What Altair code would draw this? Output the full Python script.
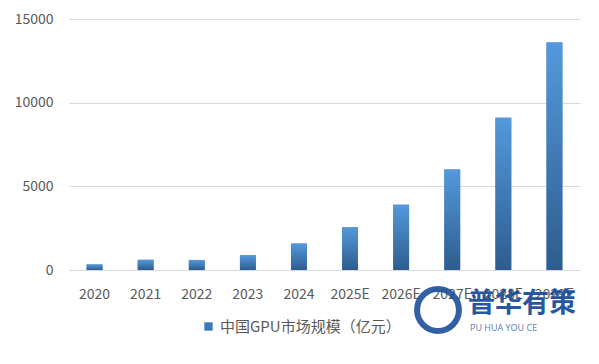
import altair as alt
import pandas as pd

categories = ["2020", "2021", "2022", "2023", "2024", "2025E", "2026E", "2027E", "2028E", "2029E"]
values = [330, 610, 600, 880, 1580, 2550, 3900, 6000, 9100, 13600]
series_name = "中国GPU市场规模（亿元）"
y_ticks = [0, 5000, 10000, 15000]

df = pd.DataFrame({"year": categories, "value": values, "series": [series_name] * len(categories)})

FONT = "Noto Sans CJK SC"
LABEL = "#595959"
GRID = "#d9d9d9"

x_enc = alt.X("year:N", sort=categories, title=None,
              scale=alt.Scale(paddingInner=0.69, paddingOuter=0.345),
              axis=alt.Axis(labelAngle=0, labelFont=FONT, labelFontSize=14, labelColor=LABEL,
                            labelPadding=17, ticks=False, domainColor=GRID, domainWidth=1, grid=False))
y_enc = alt.Y("value:Q", title=None,
              scale=alt.Scale(domain=[0, 15000], nice=False),
              axis=alt.Axis(values=y_ticks, format="d", labelFont=FONT, labelFontSize=14,
                            labelColor=LABEL, labelPadding=16, ticks=False, domain=False,
                            gridColor=GRID, gridWidth=1))

legend_bars = alt.Chart(df).mark_bar().encode(
    x=x_enc, y=y_enc,
    color=alt.Color("series:N", scale=alt.Scale(range=["#3b79ba"]),
                    legend=alt.Legend(title=None, orient="none", legendX=132, legendY=300,
                                      symbolType="square", symbolSize=70, symbolStrokeWidth=0,
                                      labelFont=FONT, labelFontSize=15, labelColor=LABEL,
                                      labelLimit=400)),
)

grad = alt.Gradient(gradient="linear", x1=0, x2=0, y1=0, y2=1,
                    stops=[alt.GradientStop(color="#5399dc", offset=0),
                           alt.GradientStop(color="#2e5c8e", offset=1)])
bars = alt.Chart(df).mark_bar(fill=grad).encode(x=x_enc, y=y_enc)

wm1 = alt.Chart(pd.DataFrame({"t": ["普华有策"]})).mark_text(
    font=FONT, fontSize=27, fontWeight="bold", color="#1d4f9c",
    align="left", baseline="middle", opacity=0.95).encode(
    text="t:N", x=alt.value(399), y=alt.value(285))
wm2 = alt.Chart(pd.DataFrame({"t": ["PU HUA YOU CE"]})).mark_text(
    font="Open Sans", fontSize=9, color="#5a7bb0", align="left", baseline="middle").encode(
    text="t:N", x=alt.value(401), y=alt.value(309))
logo = alt.Chart(pd.DataFrame({"t": [1]})).mark_point(
    shape="circle", size=1750, filled=False, stroke="#1d4f9c", strokeWidth=6, opacity=0.9).encode(
    x=alt.value(369), y=alt.value(291))

chart = alt.layer(legend_bars, bars, logo, wm1, wm2).properties(
    width=511, height=251,
    autosize=alt.AutoSizeParams(type="none"),
    padding={"left": 61, "top": 11, "right": 11, "bottom": 86},
    background="white",
).configure_view(stroke=None)

chart.save("out.html", embed_options={"renderer": "svg", "actions": False})
